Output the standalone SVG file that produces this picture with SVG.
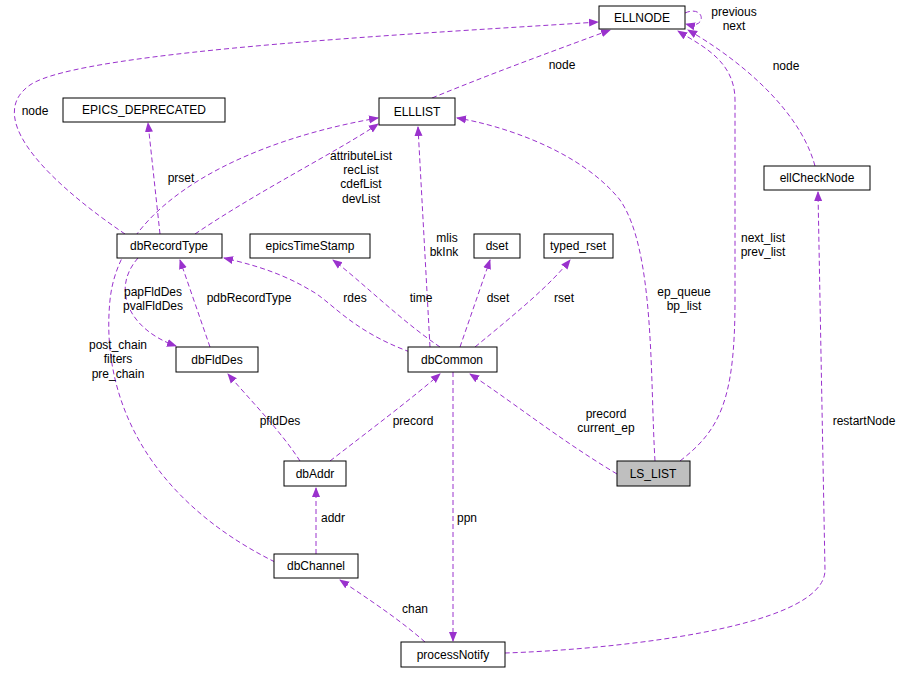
<svg xmlns="http://www.w3.org/2000/svg" width="905" height="675" viewBox="0 0 905 675">
<style>
.n rect{fill:#fff;stroke:#000;stroke-width:1}
.h rect{fill:#bfbfbf}
text{font-family:"Liberation Sans",Arial,sans-serif;font-size:12px;fill:#000;text-anchor:middle}
.e path{fill:none;stroke:#9a32cd;stroke-width:1;stroke-dasharray:5,3}
</style>
<defs><marker id="a" viewBox="0 0 10 10" refX="9" refY="5" markerWidth="10" markerHeight="10" markerUnits="userSpaceOnUse" orient="auto"><path d="M0,1 L10,5 L0,9 z" fill="#9a32cd"/></marker></defs>
<rect width="905" height="675" fill="#fff"/>
<g class="e" marker-end="url(#a)">
<path d="M685,13 C705,4 708,30 686,24" marker-end="url(#a)"/>
<path d="M432,98 C500,70 570,45 610,30" marker-end="url(#a)"/>
<path d="M125,234 C60,190 -20,120 30,85 C80,50 450,32 598,22" marker-end="url(#a)"/>
<path d="M815,166 C800,110 740,60 688,30" marker-end="url(#a)"/>
<path d="M680,461 C720,430 735,400 735,300 L735,100 C735,60 700,45 678,31" marker-end="url(#a)"/>
<path d="M160,234 L148,123" marker-end="url(#a)"/>
<path d="M195,234 C260,190 340,150 378,124" marker-end="url(#a)"/>
<path d="M275,562 C150,500 100,400 110,300 C120,200 250,140 378,118" marker-end="url(#a)"/>
<path d="M430,347 L418,127" marker-end="url(#a)"/>
<path d="M655,461 C650,380 655,250 620,200 C580,150 500,125 457,118" marker-end="url(#a)"/>
<path d="M505,653 C600,650 825,630 825,570 L818,192" marker-end="url(#a)"/>
<path d="M210,347 L180,260" marker-end="url(#a)"/>
<path d="M138,258 C110,290 130,330 176,346" marker-end="url(#a)"/>
<path d="M410,352 C350,330 330,300 310,290 C280,272 250,264 224,258" marker-end="url(#a)"/>
<path d="M440,347 C400,320 360,280 333,260" marker-end="url(#a)"/>
<path d="M460,347 L490,260" marker-end="url(#a)"/>
<path d="M475,347 C520,310 550,285 570,260" marker-end="url(#a)"/>
<path d="M300,461 C280,430 250,400 228,374" marker-end="url(#a)"/>
<path d="M330,461 C370,430 410,400 440,374" marker-end="url(#a)"/>
<path d="M617,474 C560,440 510,400 470,374" marker-end="url(#a)"/>
<path d="M316,554 L316,488" marker-end="url(#a)"/>
<path d="M453,372 L453,641" marker-end="url(#a)"/>
<path d="M425,642 C400,620 370,600 340,580" marker-end="url(#a)"/>
</g>
<g id="labels">
<text x="734" y="16">previous</text><text x="734" y="30">next</text>
<text x="562" y="69">node</text>
<text x="35" y="115">node</text>
<text x="786" y="70">node</text>
<text x="763" y="242">next_list</text><text x="763" y="256">prev_list</text>
<text x="181" y="182">prset</text>
<text x="361" y="160">attributeList</text><text x="361" y="174">recList</text><text x="361" y="188">cdefList</text><text x="361" y="203">devList</text>
<text x="118" y="349">post_chain</text><text x="118" y="363">filters</text><text x="118" y="378">pre_chain</text>
<text x="447" y="242">mlis</text><text x="444" y="256">bkInk</text>
<text x="684" y="296">ep_queue</text><text x="684" y="310">bp_list</text>
<text x="864" y="425">restartNode</text>
<text x="249" y="302">pdbRecordType</text>
<text x="153" y="296">papFldDes</text><text x="153" y="310">pvalFldDes</text>
<text x="355" y="302">rdes</text>
<text x="421" y="302">time</text>
<text x="498" y="302">dset</text>
<text x="564" y="302">rset</text>
<text x="280" y="425">pfldDes</text>
<text x="413" y="425">precord</text>
<text x="606" y="418">precord</text><text x="606" y="432">current_ep</text>
<text x="333" y="522">addr</text>
<text x="467" y="522">ppn</text>
<text x="415" y="613">chan</text>
</g>
<g id="ELLNODE" class="n"><rect x="599" y="6" width="86" height="23"/><text x="642" y="22">ELLNODE</text></g>
<g id="EPICS_DEPRECATED" class="n"><rect x="63" y="98" width="162" height="24"/><text x="144" y="114">EPICS_DEPRECATED</text></g>
<g id="ELLLIST" class="n"><rect x="379" y="98" width="76" height="27"/><text x="417" y="116">ELLLIST</text></g>
<g id="ellCheckNode" class="n"><rect x="764" y="166" width="106" height="24"/><text x="817" y="182">ellCheckNode</text></g>
<g id="dbRecordType" class="n"><rect x="117" y="234" width="105" height="24"/><text x="169" y="250">dbRecordType</text></g>
<g id="epicsTimeStamp" class="n"><rect x="250" y="234" width="120" height="24"/><text x="310" y="250">epicsTimeStamp</text></g>
<g id="dset" class="n"><rect x="474" y="234" width="46" height="24"/><text x="497" y="250">dset</text></g>
<g id="typed_rset" class="n"><rect x="544" y="234" width="69" height="24"/><text x="578" y="250">typed_rset</text></g>
<g id="dbFldDes" class="n"><rect x="176" y="347" width="82" height="25"/><text x="217" y="364">dbFldDes</text></g>
<g id="dbCommon" class="n"><rect x="408" y="347" width="89" height="25"/><text x="452" y="364">dbCommon</text></g>
<g id="LS_LIST" class="n h"><rect x="617" y="461" width="73" height="25"/><text x="653" y="478">LS_LIST</text></g>
<g id="dbAddr" class="n"><rect x="284" y="461" width="62" height="25"/><text x="315" y="478">dbAddr</text></g>
<g id="dbChannel" class="n"><rect x="274" y="554" width="84" height="24"/><text x="316" y="570">dbChannel</text></g>
<g id="processNotify" class="n"><rect x="401" y="642" width="104" height="25"/><text x="453" y="659">processNotify</text></g>
</svg>
